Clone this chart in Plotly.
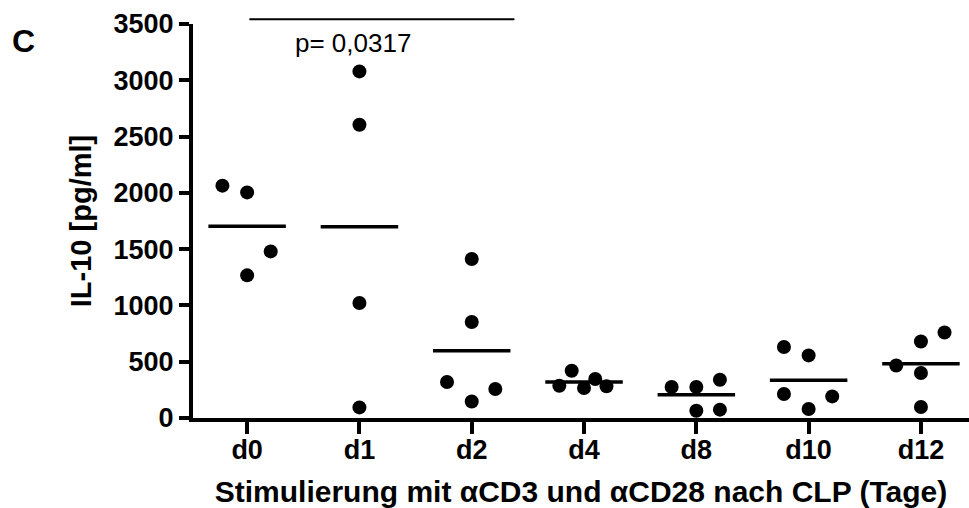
import numpy as np
import plotly.graph_objects as go

# IL-10 secretion after αCD3/αCD28 stimulation, by day after CLP
days = ["d0", "d1", "d2", "d4", "d8", "d10", "d12"]

il10_d0 = [2064, 2004, 1480, 1267]
il10_d1 = [3079, 2605, 1022, 94]
il10_d2 = [1412, 853, 320, 258, 147]
il10_d4 = [287, 420, 266, 346, 281]
il10_d8 = [275, 275, 340, 65, 74]
il10_d10 = [631, 556, 213, 192, 80]
il10_d12 = [467, 680, 760, 400, 98]

groups = [il10_d0, il10_d1, il10_d2, il10_d4, il10_d8, il10_d10, il10_d12]

# horizontal spread of neighbouring points within a column (category units)
x_spread = [
    [-0.22, 0.0, 0.21, 0.0],
    [0.0, 0.0, 0.0, 0.0],
    [0.0, 0.0, -0.22, 0.21, 0.0],
    [-0.22, -0.11, 0.0, 0.1, 0.2],
    [-0.22, 0.0, 0.21, 0.0, 0.21],
    [-0.22, 0.0, -0.22, 0.21, 0.0],
    [-0.22, 0.0, 0.21, 0.0, 0.0],
]

y_ticks = [0, 500, 1000, 1500, 2000, 2500, 3000, 3500]
p_label = "p= 0,0317"
sig_from, sig_to = 0, 2  # comparison bracket d0 .. d2

FONT = "Liberation Sans, Arial, Helvetica, sans-serif"

fig = go.Figure()

for i, (vals, off) in enumerate(zip(groups, x_spread)):
    fig.add_trace(go.Scatter(
        x=[i + o for o in off], y=vals, mode="markers",
        marker=dict(size=14, color="black", line=dict(width=0)),
        showlegend=False, hoverinfo="y",
    ))
    m = float(np.mean(vals))
    fig.add_trace(go.Scatter(
        x=[i - 0.345, i + 0.345], y=[m, m], mode="lines",
        line=dict(color="black", width=3.5),
        showlegend=False, hoverinfo="skip",
    ))

# significance bar above the plot
fig.add_shape(type="line", xref="x", yref="paper",
              x0=sig_from + 0.02, x1=sig_to + 0.38, y0=1.012, y1=1.012,
              line=dict(color="black", width=2))
fig.add_annotation(text=p_label, xref="x", yref="paper",
                   x=0.94, y=0.952, showarrow=False,
                   xanchor="center", yanchor="middle",
                   font=dict(family=FONT, size=26, color="black"))

# panel letter
fig.add_annotation(text="<b>C</b>", xref="paper", yref="paper",
                   x=-0.236, y=0.958, showarrow=False,
                   xanchor="left", yanchor="middle",
                   font=dict(family=FONT, size=32, color="black"))

fig.update_layout(
    width=969, height=508,
    margin=dict(l=193, r=0, t=24, b=90),
    paper_bgcolor="white", plot_bgcolor="white",
    font=dict(family=FONT, color="black"),
    xaxis=dict(
        range=[-0.482, 6.428],
        tickmode="array", tickvals=list(range(len(days))), ticktext=days,
        showgrid=False, zeroline=False,
        showline=True, linecolor="black", linewidth=4,
        ticks="outside", ticklen=12, tickwidth=4, tickcolor="black",
        ticklabelstandoff=-7,
        tickfont=dict(family=FONT, size=27, color="black", weight="bold"),
        title=dict(text="Stimulierung mit αCD3 und αCD28 nach CLP (Tage)",
                   font=dict(family=FONT, size=30, color="black", weight="bold"),
                   standoff=18),
    ),
    yaxis=dict(
        range=[0, 3500],
        tickmode="array", tickvals=y_ticks,
        showgrid=False, zeroline=False,
        showline=True, linecolor="black", linewidth=4,
        ticks="outside", ticklen=10, tickwidth=4, tickcolor="black",
        tickfont=dict(family=FONT, size=27, color="black", weight="bold"),
        title=dict(text="IL-10 [pg/ml]",
                   font=dict(family=FONT, size=29, color="black", weight="bold"),
                   standoff=14),
    ),
)

fig.write_html("out.html")
